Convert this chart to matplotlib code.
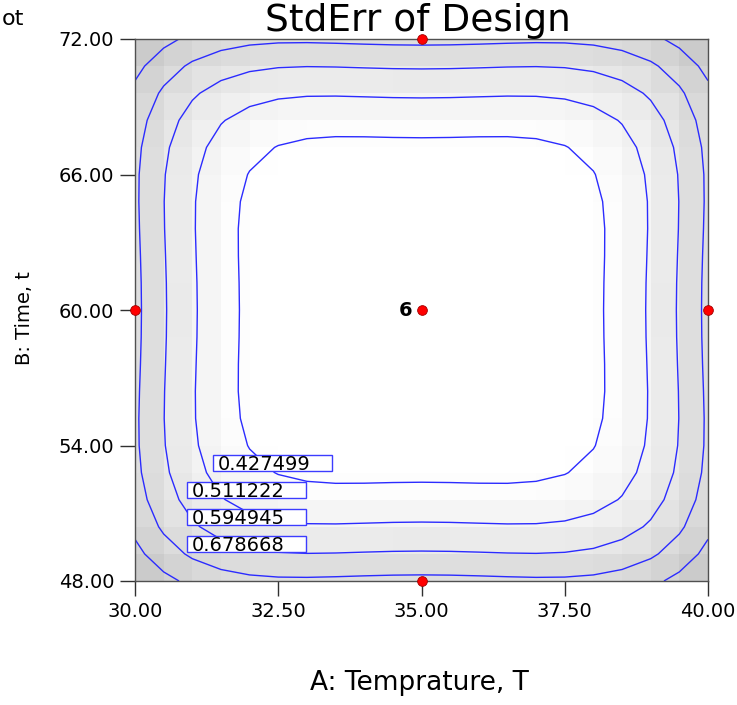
import numpy as np
import matplotlib
matplotlib.use("Agg")
import matplotlib.pyplot as plt
from matplotlib.colors import LinearSegmentedColormap
from matplotlib.patches import Rectangle

# face-centred central composite design, coded units (A, B, C), 6 centre points
design_a = [-1, 1, -1, 1, -1, 1, -1, 1, -1, 1, 0, 0, 0, 0, 0, 0, 0, 0, 0, 0]
design_b = [-1, -1, 1, 1, -1, -1, 1, 1, 0, 0, -1, 1, 0, 0, 0, 0, 0, 0, 0, 0]
design_c = [-1, -1, -1, -1, 1, 1, 1, 1, 0, 0, 0, 0, -1, 1, 0, 0, 0, 0, 0, 0]

temp_range = [30.0, 40.0]   # A: Temprature, T
time_range = [48.0, 72.0]   # B: Time, t

x_ticks = [30.0, 32.5, 35.0, 37.5, 40.0]
y_ticks = [48.0, 54.0, 60.0, 66.0, 72.0]

# contour levels as printed on the plot (last one is unlabelled)
levels = [0.427499, 0.511222, 0.594945, 0.678668, 0.762391]
n_labelled = 4

# label box lower-left corners (data coords)
label_pos = [(31.36, 52.87), (30.91, 51.68), (30.91, 50.48), (30.91, 49.28)]


def terms(a, b, c):
    a, b, c = np.asarray(a, float), np.asarray(b, float), np.asarray(c, float)
    return np.column_stack([np.ones_like(a), a, b, c, a * b, a * c, b * c,
                            a ** 2, b ** 2, c ** 2])


def to_actual(coded, rng):
    return (rng[0] + rng[1]) / 2.0 + np.asarray(coded) * (rng[1] - rng[0]) / 2.0


X = terms(design_a, design_b, design_c)
XtXi = np.linalg.inv(X.T @ X)


def stderr(ga, gb):
    F = terms(ga.ravel(), gb.ravel(), np.zeros(ga.size))
    return np.sqrt(np.sum((F @ XtXi) * F, axis=1)).reshape(ga.shape)


# contour grid (nodes) and shading grid (cell centres)
nodes = np.linspace(-1, 1, 21)
GA, GB = np.meshgrid(nodes, nodes)
se_nodes = stderr(GA, GB)
centres = (nodes[:-1] + nodes[1:]) / 2
CA, CB = np.meshgrid(centres, centres)
se_cells = stderr(CA, CB)

se_min, se_max = se_nodes.min(), se_nodes.max()

cmap = LinearSegmentedColormap.from_list(
    "stderr", [(0.0, "#ffffff"), (0.15, "#ffffff"), (1.0, "#c2c2c2")])

fig = plt.figure(figsize=(7.37, 7.05), dpi=100)
ax = fig.add_axes([135 / 737, 1 - 581 / 705, 573 / 737, 542 / 705])

extent = (temp_range[0], temp_range[1], time_range[0], time_range[1])
ax.imshow(se_cells, origin="lower", extent=extent, aspect="auto",
          cmap=cmap, vmin=se_min, vmax=se_max, interpolation="nearest")

ax.contour(to_actual(GA, temp_range), to_actual(GB, time_range), se_nodes,
           levels, colors="#2b2bff", linewidths=1.0)

# contour labels in boxes
for lv, (x0, y0) in zip(levels[:n_labelled], label_pos):
    ax.add_patch(Rectangle((x0, y0), 2.08, 0.71, facecolor="white",
                           edgecolor="#3c3cff", linewidth=1.0, zorder=4))
    ax.text(x0 + 0.08, y0 + 0.03, "%.6f" % lv, fontsize=14, color="black",
            ha="left", va="baseline", zorder=5)

# design points lying in the C = 0 slice
da, db, dc = np.array(design_a), np.array(design_b), np.array(design_c)
in_slice = dc == 0
pts = {}
for a, b in zip(da[in_slice], db[in_slice]):
    pts[(a, b)] = pts.get((a, b), 0) + 1
for (a, b), n in pts.items():
    px, py = to_actual(a, temp_range), to_actual(b, time_range)
    ax.plot(px, py, "o", color="#ff0000", markeredgecolor="#a00000",
            markeredgewidth=0.6, markersize=7, clip_on=False, zorder=6)
    if n > 1:
        ax.text(px - 0.16, py, str(n), fontsize=14, fontweight="bold",
                ha="right", va="center", zorder=6)

ax.set_xlim(*temp_range)
ax.set_ylim(*time_range)
ax.set_xticks(x_ticks)
ax.set_yticks(y_ticks)
ax.set_xticklabels(["%.2f" % v for v in x_ticks])
ax.set_yticklabels(["%.2f" % v for v in y_ticks])
ax.tick_params(direction="out", length=11, width=1, color="#303030",
               labelsize=14, pad=4)
for sp in ax.spines.values():
    sp.set_color("#505050")
    sp.set_linewidth(1.0)

fig.text(418 / 737, 1 - 31 / 705, "StdErr of Design", ha="center",
         va="baseline", fontsize=27)
fig.text(419 / 737, 1 - 690 / 705, "A: Temprature, T", ha="center",
         va="baseline", fontsize=19)
fig.text(25 / 737, 1 - 318 / 705, "B: Time, t", rotation=90, ha="center",
         va="center", fontsize=14)
# only the tail of the corner caption is visible in the original
fig.text(2 / 737, 1 - 25 / 705, "ot", ha="left", va="baseline", fontsize=16)

fig.savefig("out.png", dpi=100)
